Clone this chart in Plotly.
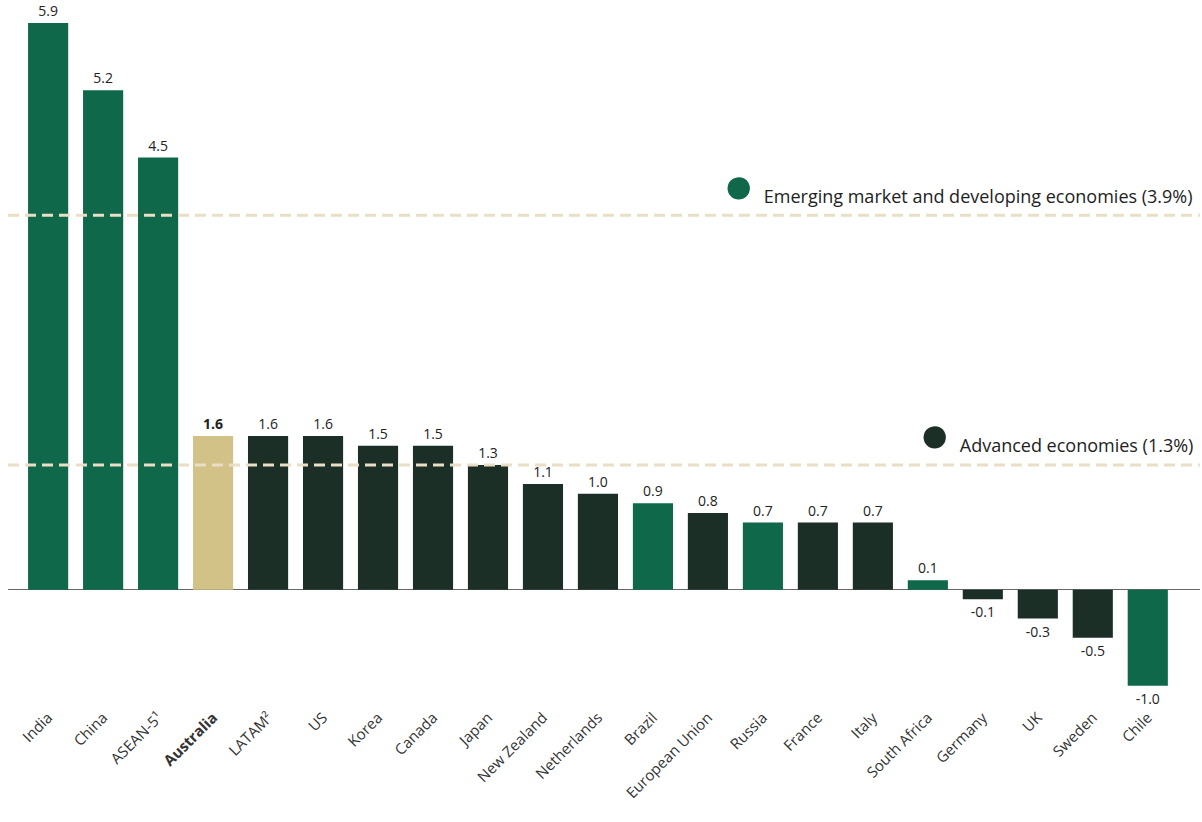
import plotly.graph_objects as go

categories = ["India", "China", "ASEAN-5¹", "Australia", "LATAM²", "US", "Korea", "Canada",
              "Japan", "New Zealand", "Netherlands", "Brazil", "European Union", "Russia",
              "France", "Italy", "South Africa", "Germany", "UK", "Sweden", "Chile"]
values = [5.9, 5.2, 4.5, 1.6, 1.6, 1.6, 1.5, 1.5, 1.3, 1.1, 1.0, 0.9, 0.8, 0.7, 0.7, 0.7,
          0.1, -0.1, -0.3, -0.5, -1.0]
groups = ["EM", "EM", "EM", "AU", "AD", "AD", "AD", "AD", "AD", "AD", "AD", "EM", "AD", "EM",
          "AD", "AD", "EM", "AD", "AD", "AD", "EM"]
ref_labels = ["Emerging market and developing economies (3.9%)", "Advanced economies (1.3%)"]
ref_values = [3.9, 1.3]
ref_groups = ["EM", "AD"]

colors = {"EM": "#0e6849", "AD": "#1c2f26", "AU": "#d3c287"}
FONT = "Open Sans"

x = list(range(len(categories)))
bar_colors = [colors[g] for g in groups]
text = [f"<b>{v:.1f}</b>" if c == "Australia" else f"{v:.1f}" for c, v in zip(categories, values)]
ticktext = [f"<b>{c}</b>" if c == "Australia" else c for c in categories]

fig = go.Figure()
fig.add_trace(go.Bar(
    x=x, y=values, marker=dict(color=bar_colors, line=dict(width=0)),
    width=0.73, text=text, textposition="outside", cliponaxis=False,
    textfont=dict(family=FONT, size=14, color="#222222"),
    hoverinfo="skip", showlegend=False,
))

xmin, xmax = -0.73, 20.95
for lab, val, g in zip(ref_labels, ref_values, ref_groups):
    fig.add_trace(go.Scatter(
        x=[xmin, xmax], y=[val, val], mode="lines",
        line=dict(color="#e9dec6", width=3, dash="11px,6px"),
        hoverinfo="skip", showlegend=False,
    ))
    fig.add_annotation(
        x=xmax, y=val, xref="x", yref="y", xanchor="right", yanchor="middle",
        xshift=-5, yshift=33, showarrow=False,
        text=f"<span style='color:{colors[g]};font-size:52px'>●</span>  {lab}",
        font=dict(family=FONT, size=18, color="#222222"),
    )

fig.update_layout(
    width=1202, height=822,
    margin=dict(l=8, r=2, t=0, b=117),
    paper_bgcolor="white", plot_bgcolor="white",
    bargap=0.27,
    xaxis=dict(range=[xmin, xmax], tickvals=x, ticktext=ticktext, tickangle=-45,
               showgrid=False, zeroline=False, showline=False, ticks="", automargin=False,
               tickfont=dict(family=FONT, size=15, color="#333333")),
    yaxis=dict(range=[-1.2, 6.14], showgrid=False, zeroline=True, zerolinecolor="#666666",
               zerolinewidth=1, showticklabels=False, showline=False, ticks="",
               automargin=False),
    font=dict(family=FONT),
)

fig.write_html("out.html", config={"displayModeBar": False},
               post_script="document.body.style.margin='0';")
